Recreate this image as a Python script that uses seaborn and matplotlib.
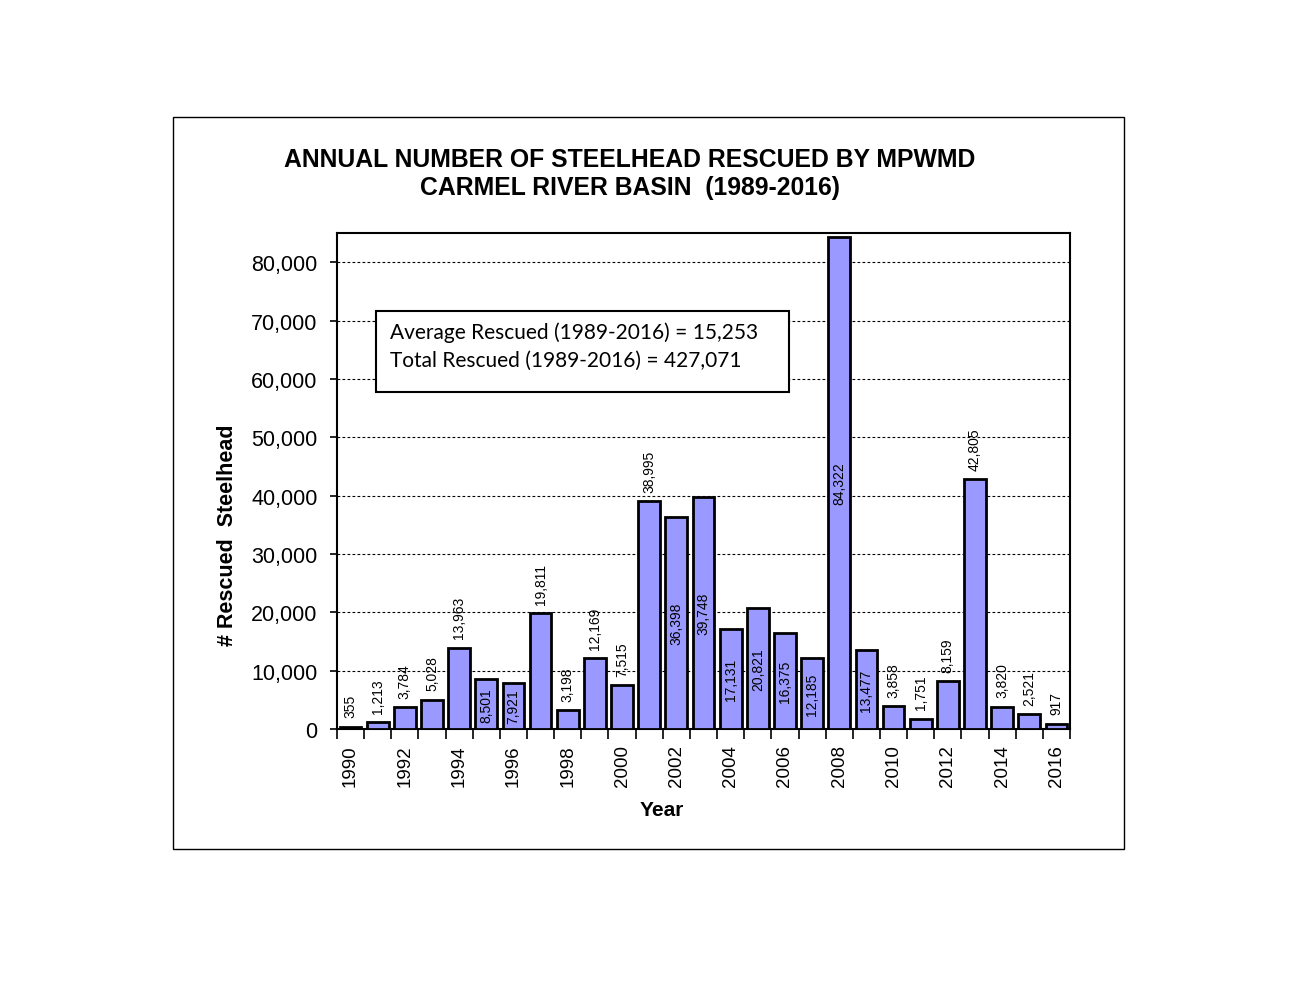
import matplotlib
matplotlib.use("Agg")
import matplotlib.pyplot as plt
import matplotlib.patches as mpatches
import pandas as pd
import seaborn as sns

# Data
years = list(range(1990, 2017))
rescued = [355, 1213, 3784, 5028, 13963, 8501, 7921, 19811, 3198, 12169,
           7515, 38995, 36398, 39748, 17131, 20821, 16375, 12185, 84322, 13477,
           3858, 1751, 8159, 42805, 3820, 2521, 917]
# which value labels sit centred inside the bar (the rest sit above it)
label_inside = [False, False, False, False, False, True, True, False, False, False,
                False, False, True, True, True, True, True, True, True, True,
                False, False, False, False, False, False, False]

title = "ANNUAL NUMBER OF STEELHEAD RESCUED BY MPWMD\nCARMEL RIVER BASIN  (1989-2016)"
box_lines = ["Average Rescued (1989-2016) = 15,253",
             "Total Rescued (1989-2016) = 427,071"]

df = pd.DataFrame({"Year": [str(y) for y in years], "Rescued": rescued})

sns.set_style("white")
plt.rcParams["font.family"] = ["Liberation Sans", "DejaVu Sans"]
plt.rcParams["text.color"] = "black"
plt.rcParams["axes.labelcolor"] = "black"
plt.rcParams["xtick.color"] = "black"
plt.rcParams["ytick.color"] = "black"

W, H = 1298, 1003
fig = plt.figure(figsize=(W / 100, H / 100), dpi=100)
fig.patch.set_facecolor("white")

# outer chart frame
fig.patches.append(mpatches.Rectangle((173 / W, 1 - 850 / H), (1124 - 173) / W, (850 - 118) / H,
                                      transform=fig.transFigure, fill=False,
                                      edgecolor="black", linewidth=1.0))

ax = fig.add_axes([337 / W, 1 - 730 / H, (1070 - 337) / W, (730 - 234) / H])
sns.barplot(data=df, x="Year", y="Rescued", color="#9999FF", saturation=1,
            edgecolor="black", linewidth=2, width=0.8, ax=ax, zorder=3)

ax.set_xlim(-0.5, len(years) - 0.5)
ax.set_ylim(0, 85000)
ax.set_yticks(range(0, 80001, 10000))
ax.set_yticklabels([f"{v:,}" for v in range(0, 80001, 10000)], fontsize=15.5)
ax.yaxis.grid(True, linestyle=(0, (2.5, 2)), color="black", linewidth=0.8, zorder=0)
ax.tick_params(axis="y", direction="out", length=5, width=1.2, left=True, pad=9)

ax.set_xticks(range(len(years)))
ax.set_xticklabels([str(y) if i % 2 == 0 else "" for i, y in enumerate(years)],
                   rotation=90, fontsize=13.5)
ax.tick_params(axis="x", which="major", length=0, pad=11)
ax.set_xticks([i + 0.5 for i in range(-1, len(years))], minor=True)
ax.tick_params(axis="x", which="minor", direction="out", length=7, width=1.2, bottom=True)

for s in ax.spines.values():
    s.set_visible(True)
    s.set_color("black")
    s.set_linewidth(1.5)

ax.set_xlabel("Year", fontsize=15, fontweight="bold")
ax.xaxis.set_label_coords((662 - 337) / 733, -(801 - 730) / 496)
ax.set_ylabel("# Rescued  Steelhead", fontsize=15.5, fontweight="bold")
ax.yaxis.set_label_coords((238 - 337) / 733, (730 - 535) / 496)

# value labels
for i, (v, inside) in enumerate(zip(rescued, label_inside)):
    if inside:
        ax.text(i, v / 2, f"{v:,}", rotation=90, ha="center", va="center",
                fontsize=10, color="black", zorder=5)
    else:
        ypos = max(v + 1600, 2000)
        ax.text(i, ypos, f"{v:,}", rotation=90, ha="center", va="bottom",
                fontsize=10, color="black", zorder=5)

# summary box
ax.add_patch(mpatches.Rectangle((39 / 733, (730 - 393) / 496), (789 - 376) / 733, (393 - 312) / 496,
                                transform=ax.transAxes, facecolor="white",
                                edgecolor="black", linewidth=1.5, zorder=6))
for line, ypix in zip(box_lines, [333, 361]):
    ax.text((390 - 337) / 733, (730 - ypix) / 496, line, transform=ax.transAxes,
            fontsize=15, family=["Lato", "DejaVu Sans"], ha="left", va="center", zorder=7)

fig.text(630 / W, 1 - 148 / H, title, ha="center", va="top", fontsize=17.8,
         fontweight="bold", linespacing=1.22)

fig.savefig("out.png", dpi=100, facecolor="white")
